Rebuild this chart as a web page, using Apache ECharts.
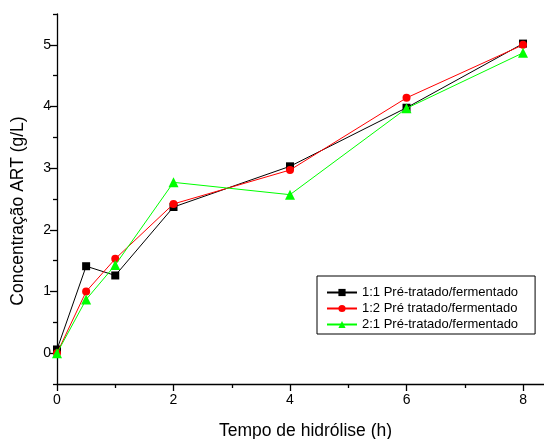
<!DOCTYPE html>
<html>
<head>
<meta charset="utf-8">
<script src="https://cdn.jsdelivr.net/npm/echarts@6/dist/echarts.min.js"></script>
<style>html,body{margin:0;padding:0;background:#fff}#c{width:544px;height:439px}</style>
</head>
<body>
<div id="c"></div>
<script>
var times = [0, 0.5, 1, 2, 4, 6, 8];
var s11 = [0.06, 1.41, 1.26, 2.37, 3.03, 3.98, 5.02];
var s12 = [0.0, 1.0, 1.53, 2.42, 2.97, 4.14, 5.0];
var s21 = [0.0, 0.87, 1.43, 2.77, 2.57, 3.97, 4.87];
var names = ['1:1 Pré-tratado/fermentado', '1:2 Pré tratado/fermentado', '2:1 Pré-tratado/fermentado'];
var xMajor = [0, 2, 4, 6, 8];
var xMinor = [1, 3, 5, 7];
var yMajor = [0, 1, 2, 3, 4, 5];
var yMinor = [-0.5, 0.5, 1.5, 2.5, 3.5, 4.5, 5.5];

function pairs(v){ return times.map(function(t,i){ return [t, v[i]]; }); }
var FONT = '"Liberation Sans", Arial, sans-serif';
var chart = echarts.init(document.getElementById('c'), null, {renderer:'canvas'});
var axisCommon = {
  type: 'value', splitLine: {show:false},
  axisLine: {show:true, onZero:false, lineStyle:{color:'#000', width:1.3}}
};
chart.setOption({
  backgroundColor: '#fff',
  animation: false,
  grid: {left: 57, right: 0, top: 14, bottom: 55, containLabel: false, outerBoundsMode: 'none'},
  xAxis: [
    Object.assign({}, axisCommon, {
      min: 0, max: 8.36,
      name: 'Tempo de hidrólise (h)', nameLocation: 'middle', nameGap: 38,
      nameTextStyle: {fontFamily: FONT, fontSize: 17.5, color:'#000', padding:[0,0,0,10]},
      axisTick: {show:true, inside:false, length:7, customValues: xMajor, lineStyle:{color:'#000', width:1.3}},
      axisLabel: {customValues: xMajor, fontFamily: FONT, fontSize: 14, color:'#000', margin: 9}
    }),
    Object.assign({}, axisCommon, {
      min: 0, max: 8.36, position: 'bottom',
      axisLine: {show:false, onZero:false},
      axisTick: {show:true, inside:false, length:4, customValues: xMinor, lineStyle:{color:'#000', width:1.3}},
      axisLabel: {show:false}
    })
  ],
  yAxis: [
    Object.assign({}, axisCommon, {
      min: -0.5, max: 5.5,
      name: 'Concentração ART (g/L)', nameLocation: 'middle', nameGap: 30,
      nameTextStyle: {fontFamily: FONT, fontSize: 17.5, color:'#000', padding:[0,24,0,0]},
      axisTick: {show:true, length:7, customValues: yMajor, lineStyle:{color:'#000', width:1.3}},
      axisLabel: {customValues: yMajor, fontFamily: FONT, fontSize: 14, color:'#000', margin: 6}
    }),
    Object.assign({}, axisCommon, {
      min: -0.5, max: 5.5, position:'left',
      axisLine: {show:false, onZero:false},
      axisTick: {show:true, inside:false, length:4, customValues: yMinor, lineStyle:{color:'#000', width:1.3}},
      axisLabel: {show:false}
    })
  ],
  legend: {
    orient: 'vertical', left: 317, top: 276,
    backgroundColor: '#fff', borderColor: '#000', borderWidth: 1, borderRadius: 0,
    padding: [10, 17, 3, 9], itemGap: 3, itemWidth: 30, itemHeight: 9,
    textStyle: {fontFamily: FONT, fontSize: 13, color:'#000'},
    data: names
  },
  series: [
    {name: names[0], type:'line', data: pairs(s11), symbol:'rect', symbolSize: 8,
     itemStyle:{color:'#000'}, lineStyle:{color:'#000', width:1}, z:3},
    {name: names[1], type:'line', data: pairs(s12), symbol:'circle', symbolSize: 8,
     itemStyle:{color:'#ff0000'}, lineStyle:{color:'#ff0000', width:1}, z:4},
    {name: names[2], type:'line', data: pairs(s21), symbol:'triangle', symbolSize: 10,
     itemStyle:{color:'#00ff00'}, lineStyle:{color:'#00ff00', width:1}, z:5}
  ]
});
</script>
</body>
</html>
